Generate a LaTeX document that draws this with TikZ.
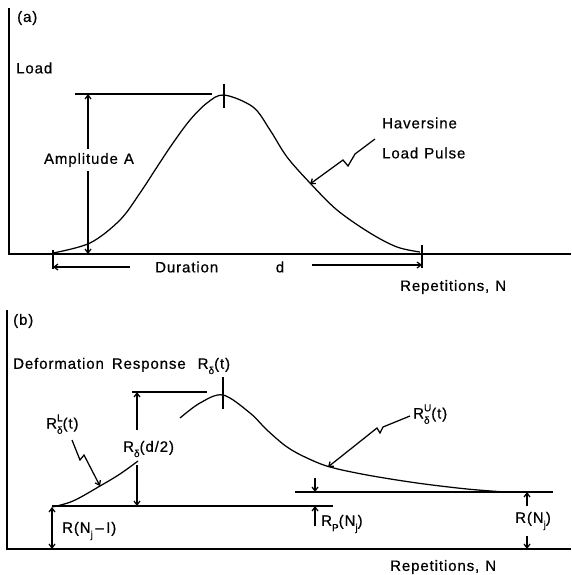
\documentclass[tikz,border=0pt]{standalone}
\usepackage{fontspec}
\setmainfont{Liberation Sans}[LetterSpace=6,FakeBold=0.6]
\usetikzlibrary{arrows.meta}
\newcommand\lsub[1]{\raisebox{-0.35em}{\fontsize{10}{10}\selectfont #1}}
\newcommand\lsupsub[2]{\raisebox{-0.35em}{\fontsize{10}{12.5}\selectfont\begin{tabular}[b]{@{}l@{}}#1\\#2\end{tabular}}}
\begin{document}
\begin{tikzpicture}[x=1pt,y=-1pt,
  line/.style={line width=1.25pt},
  arr/.style={line width=1.25pt,-{Straight Barb[length=4pt,width=6pt]}},
  dbl/.style={line width=1.25pt,{Straight Barb[length=4pt,width=6pt]}-{Straight Barb[length=4pt,width=6pt]}},
  lbl/.style={inner sep=0pt, font=\fontsize{15}{17}\selectfont},
  ]
\useasboundingbox (0,0) rectangle (571,575);
% ---------------- panel (a)
\coordinate (aTop) at (9,8);
\coordinate (aO) at (9,254);
\coordinate (aEnd) at (571,254);
\draw[line] (aTop) -- (aO) -- (aEnd);
\node[lbl,anchor=west] (alab) at (17,18) {(a)};
\node[lbl,anchor=west] (load) at (16,68) {Load};
\draw[line] plot[smooth,tension=0.55] coordinates {(53,253) (90,243) (120,220) (140,193) (157,167) (173,143) (190,120) (207,103) (224,95) (253,107) (270,130) (287,157) (310,183) (337,210) (370,233) (397,247) (420,252)};
\coordinate (pkA) at (224,95);
\draw[line] (224,84) -- (224,108);
\coordinate (topL) at (75,94);
\coordinate (topR) at (212,94);
\draw[line] (topL) -- (topR);
\node[lbl,inner sep=4pt] (amp) at (89,160) {Amplitude\hspace{6pt}A};
\coordinate (ampT) at (88,94);
\coordinate (ampB) at (88,254);
\draw[arr] (amp.north -| ampT) -- (ampT);
\draw[arr] (amp.south -| ampB) -- (ampB);
\draw[line] (53,250) -- (53,269);
\draw[line] (422,245) -- (422,268);
\node[lbl,anchor=west] (dur) at (155,267) {Duration};
\node[lbl] (dd) at (280,267) {d};
\coordinate (durL) at (53,267);
\coordinate (durR) at (422,265);
\draw[arr] (130,267) -- (durL);
\draw[arr] (312,265) -- (durR);
\node[lbl,anchor=west] (hav) at (382,123) {Haversine};
\node[lbl,anchor=west] (pulse) at (382,153) {Load\hspace{6pt}Pulse};
\coordinate (havTip) at (310,184);
\draw[arr] (375,139) -- (355,154) -- (348,166) -- (343,160) -- (havTip);
\node[lbl,anchor=west] (repA) at (400,287) {Repetitions,\hspace{6pt}N};
% ---------------- panel (b)
\coordinate (bTop) at (7,310);
\coordinate (bO) at (7,549);
\coordinate (bEnd) at (571,549);
\draw[line] (bTop) -- (bO) -- (bEnd);
\node[lbl,anchor=west] (blab) at (13,321) {(b)};
\node[lbl,anchor=west] (defr) at (13,366) {Deformation\hspace{8pt}Response\hspace{12pt}R\lsub{δ}(t)};
% response curve, right part
\draw[line] plot[smooth,tension=0.55] coordinates {(180,418) (200,403) (223,395) (250,413) (267,430) (287,447) (307,458) (330,467) (367,475) (417,483) (467,489) (505,492)};
% response curve, left part
\draw[line] plot[smooth,tension=0.6] coordinates {(52,507) (73,501) (100,486) (120,474) (138,461)};
\draw[line] (223,377) -- (223,409);
\coordinate (btopL) at (132,392);
\coordinate (btopR) at (207,392);
\draw[line] (btopL) -- (btopR);
\node[lbl,anchor=west] (rd2) at (123,449) {R\lsub{δ}(d/2)};
\coordinate (rdT) at (137,392);
\coordinate (rdB) at (137,506);
\draw[arr] (137,430) -- (rdT);
\draw[arr] (137,465) -- (rdB);
\coordinate (lowL) at (52,506);
\coordinate (lowR) at (333,506);
\draw[line] (lowL) -- (lowR);
\coordinate (base1) at (52,549);
\draw[dbl] (52,507) -- (base1);
\node[lbl,anchor=west] (rn1) at (62,531) {R(N\lsub{j}\,–\,I)};
\node[lbl,anchor=west] (rl) at (46,425) {R\lsupsub{L}{δ}(t)};
\coordinate (rlTip) at (100,486);
\draw[arr] (72,440) -- (80,460) -- (84,455) -- (rlTip);
\coordinate (upL) at (295,492);
\coordinate (upR) at (553,492);
\draw[line] (upL) -- (upR);
\node[lbl,anchor=west] (ru) at (413,415) {R\lsupsub{U}{δ}(t)};
\coordinate (ruTip) at (328,467);
\draw[arr] (410,416) -- (383,427) -- (380,433) -- (377,428) -- (ruTip);
\coordinate (rpT) at (315,492);
\coordinate (rpB) at (315,506);
\draw[arr] (315,478) -- (rpT);
\draw[arr] (315,526) -- (rpB);
\node[lbl,anchor=west] (rp) at (321,524) {R\lsub{P}(N\lsub{j})};
\coordinate (rnT) at (527,492);
\coordinate (rnB) at (527,549);
\node[lbl,anchor=west] (rn) at (515,521) {R(N\lsub{j})};
\draw[arr] (527,506) -- (rnT);
\draw[arr] (527,536) -- (rnB);
\node[lbl,anchor=west] (repB) at (390,567) {Repetitions,\hspace{6pt}N};
\end{tikzpicture}
\end{document}
